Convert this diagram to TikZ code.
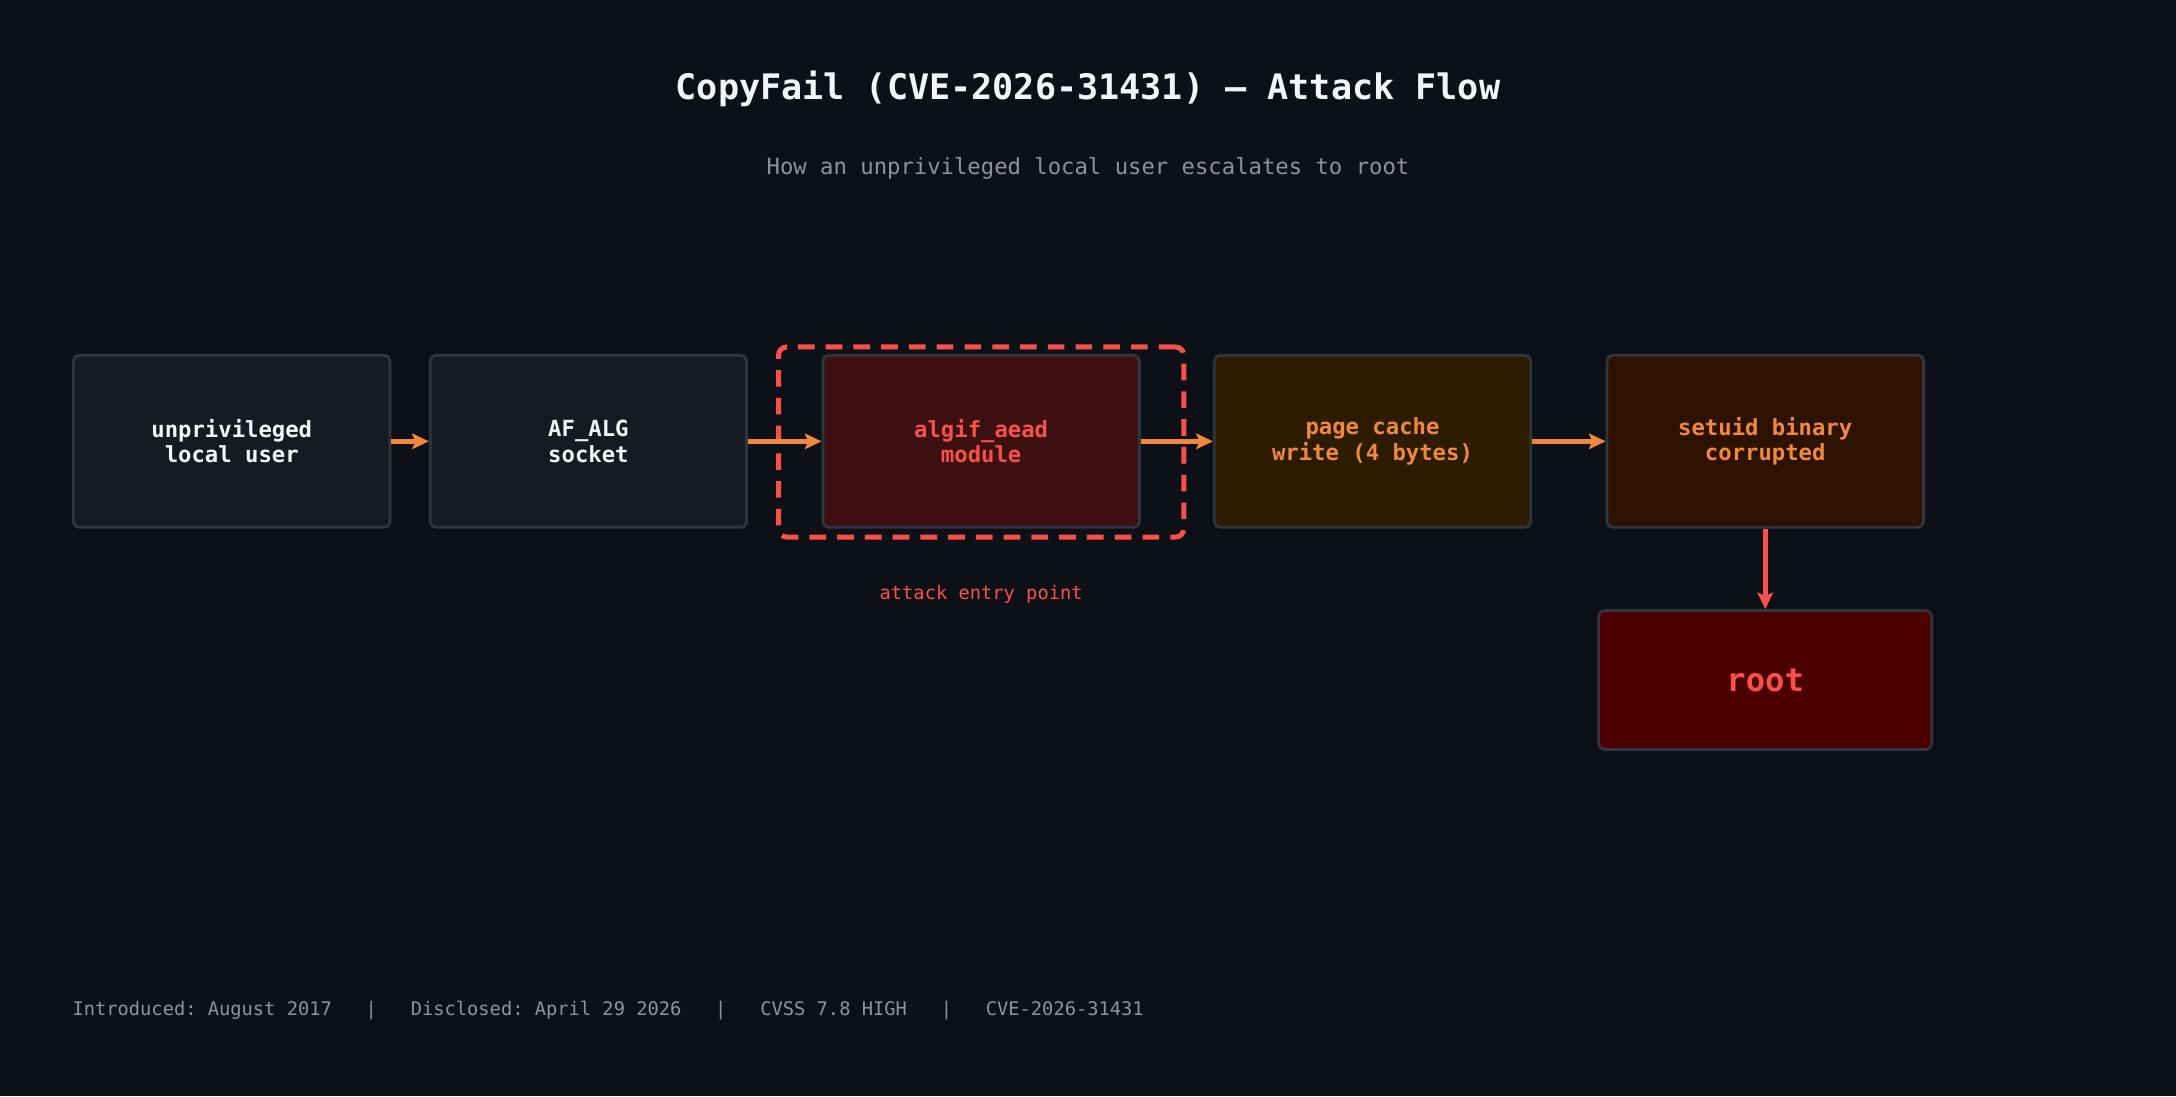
\documentclass[tikz,border=0pt]{standalone}
\usepackage{fontspec}
\setmonofont{DejaVu Sans Mono}
\usetikzlibrary{arrows.meta,positioning}
\definecolor{bgdark}{HTML}{0D1117}
\definecolor{boxgray}{HTML}{161B22}
\definecolor{edgegray}{HTML}{30363D}
\definecolor{txtwhite}{HTML}{F0F6FC}
\definecolor{txtgray}{HTML}{8B949E}
\definecolor{hotred}{HTML}{F85149}
\definecolor{hotorange}{HTML}{F0883E}
\definecolor{fillred}{HTML}{3D1012}
\definecolor{fillbrown}{HTML}{2D1C02}
\definecolor{fillrust}{HTML}{2D1200}
\definecolor{fillroot}{HTML}{4D0000}

\begin{document}
\begin{tikzpicture}[x=0.25mm,y=-0.25mm,font=\ttfamily,
	stage/.style={draw=edgegray, line width=0.5mm, rounded corners=1mm, minimum width=57mm, minimum height=31mm, align=center, font=\ttfamily\bfseries\fontsize{11.4}{13}\selectfont},
	flow/.style={-{Stealth[length=3mm,width=2.8mm,inset=0.6mm]}, line width=0.9mm, draw=hotorange}]

		\fill[bgdark] (0,0) rectangle (1568,790);

		%title
		\node[txtwhite, font=\ttfamily\bfseries\fontsize{18}{21}\selectfont] (title) at (784,64) {CopyFail (CVE-2026-31431) — Attack Flow};
		%subtitle
		\node[txtgray, font=\ttfamily\fontsize{11.4}{13}\selectfont] (sub) at (784,121) {How an unprivileged local user escalates to root};

		%user
		\node[stage, fill=boxgray, text=txtwhite] (user) at (167,318) {unprivileged\\local user};
		%socket
		\node[stage, fill=boxgray, text=txtwhite] (sock) at (424,318) {AF\_ALG\\socket};
		%aead
		\node[stage, fill=fillred, text=hotred] (aead) at (707,318) {algif\_aead\\module};
		%cache
		\node[stage, fill=fillbrown, text=hotorange] (cache) at (989,318) {page cache\\write (4 bytes)};
		%setuid
		\node[stage, fill=fillrust, text=hotorange] (setuid) at (1272,318) {setuid binary\\corrupted};
		%root
		\node[stage, fill=fillroot, text=hotred, minimum width=60mm, minimum height=25mm, font=\ttfamily\bfseries\fontsize{16.5}{19}\selectfont] (root) at (1272,490) {root};

		%entry point
		\node[draw=hotred, dashed, dash pattern=on 3mm off 2mm, line width=0.9mm, rounded corners=1.5mm, minimum width=73mm, minimum height=34.25mm] (entry) at (707,318.5) {};
		\node[hotred, font=\ttfamily\fontsize{9.6}{11}\selectfont] (entrylbl) at (707,428) {attack entry point};

		% arrows
		\draw[flow] (user) -- (sock);
		\draw[flow] (sock) -- (aead);
		\draw[flow] (aead) -- (cache);
		\draw[flow] (cache) -- (setuid);
		\draw[flow, draw=hotred] (setuid) -- (root);

		%footer
		\node[txtgray, anchor=west, inner sep=0pt, font=\ttfamily\fontsize{9.6}{11}\selectfont] (foot) at (52,728) {Introduced: August 2017\ \ \ |\ \ \ Disclosed: April 29 2026\ \ \ |\ \ \ CVSS 7.8 HIGH\ \ \ |\ \ \ CVE-2026-31431};

\end{tikzpicture}
\end{document}
